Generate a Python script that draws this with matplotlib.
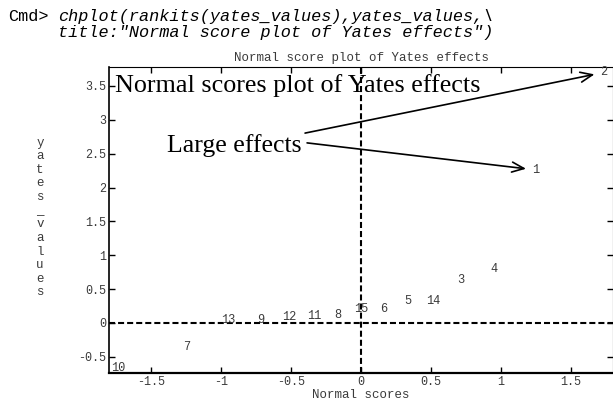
import matplotlib
matplotlib.use("Agg")
import matplotlib.pyplot as plt

# -------------------------------------------------------------------
# Data: rankits vs sorted Yates effects
# -------------------------------------------------------------------
normal_scores = [-1.736, -1.248, -0.948, -0.715, -0.516, -0.335, -0.165, 0.0,
                 0.165, 0.335, 0.516, 0.715, 0.948, 1.248, 1.736]
yates_values = [-0.66, -0.355, 0.04, 0.04, 0.08, 0.10, 0.12, 0.21,
                0.21, 0.32, 0.32, 0.64, 0.79, 2.26, 3.70]
effect_ids = ["10", "7", "13", "9", "12", "11", "8", "15",
              "6", "5", "14", "3", "4", "1", "2"]
large_effects = ["2", "1"]

x_ticks = [-1.5, -1, -0.5, 0, 0.5, 1, 1.5]
x_tick_labels = ["-1.5", "-1", "-0.5", "0", "0.5", "1", "1.5"]
y_ticks = [-0.5, 0, 0.5, 1, 1.5, 2, 2.5, 3, 3.5]
y_tick_labels = ["-0.5", "0", "0.5", "1", "1.5", "2", "2.5", "3", "3.5"]

mono = "Liberation Mono"
serif = "Liberation Serif"
grey = "#3a3a3a"

# -------------------------------------------------------------------
# Figure / axes
# -------------------------------------------------------------------
fig = plt.figure(figsize=(6.13, 4.0), dpi=100)
ax = fig.add_axes([109 / 613, 27 / 400, 504 / 613, 306 / 400])

ax.set_xlim(-1.8, 1.8)
ax.set_ylim(-0.74, 3.78)

# command line above the plot
fig.text(8 / 613, 1 - 21 / 400, "Cmd>", family=mono, fontsize=12.2, va="baseline")
fig.text(58 / 613, 1 - 21 / 400, "chplot(rankits(yates_values),yates_values,\\",
         family=mono, fontsize=12.2, style="italic", va="baseline")
fig.text(58 / 613, 1 - 37 / 400, 'title:"Normal score plot of Yates effects")',
         family=mono, fontsize=12.2, style="italic", va="baseline")

# reference lines through the origin
ax.axhline(0, color="black", lw=1.5, dashes=(2.9, 1.45), zorder=1)
ax.axvline(0, color="black", lw=1.5, dashes=(2.9, 1.45), zorder=1)

# points are drawn as their effect numbers
for x, y, lab in zip(normal_scores, yates_values, effect_ids):
    ax.text(x, y, lab, family=mono, fontsize=8.6, color=grey,
            ha="center", va="center", zorder=3)

# annotations
ax.text(0.012, 0.941, "Normal scores plot of Yates effects", transform=ax.transAxes,
        family=serif, fontsize=18.8, ha="left", va="center")
ax.text(0.115, 0.745, "Large effects", transform=ax.transAxes,
        family=serif, fontsize=18.5, ha="left", va="center")

starts = [(0.389, 0.784), (0.393, 0.752)]
for lab, start in zip(large_effects, starts):
    i = effect_ids.index(lab)
    ax.annotate("", xy=(normal_scores[i], yates_values[i]), xycoords="data",
                xytext=start, textcoords="axes fraction",
                arrowprops=dict(arrowstyle="->,head_length=0.86,head_width=0.36",
                                mutation_scale=10, lw=1.2, color="black",
                                shrinkA=0, shrinkB=7))

# axes styling
ax.set_xticks(x_ticks)
ax.set_xticklabels(x_tick_labels)
ax.set_yticks(y_ticks)
ax.set_yticklabels(y_tick_labels)
ax.tick_params(axis="both", direction="in", length=4, width=1, pad=2,
               labelsize=8.5, labelcolor=grey, top=True, right=True)
for lab in ax.get_xticklabels() + ax.get_yticklabels():
    lab.set_family(mono)

ax.spines["bottom"].set_linewidth(1.6)
ax.spines["left"].set_linewidth(1.2)
ax.spines["top"].set_linewidth(0.8)
ax.spines["right"].set_linewidth(0.8)

ax.set_title("Normal score plot of Yates effects", family=mono, fontsize=9,
             color=grey, pad=4)
ax.set_xlabel("Normal scores", family=mono, fontsize=9, color=grey, labelpad=1)

# y label written as stacked letters
fig.text(40 / 613, 1 - 217.5 / 400, "\n".join("yates_values"), family=mono,
         fontsize=9, color=grey, ha="center", va="center", linespacing=1.18)

fig.savefig("out.png", dpi=100)
